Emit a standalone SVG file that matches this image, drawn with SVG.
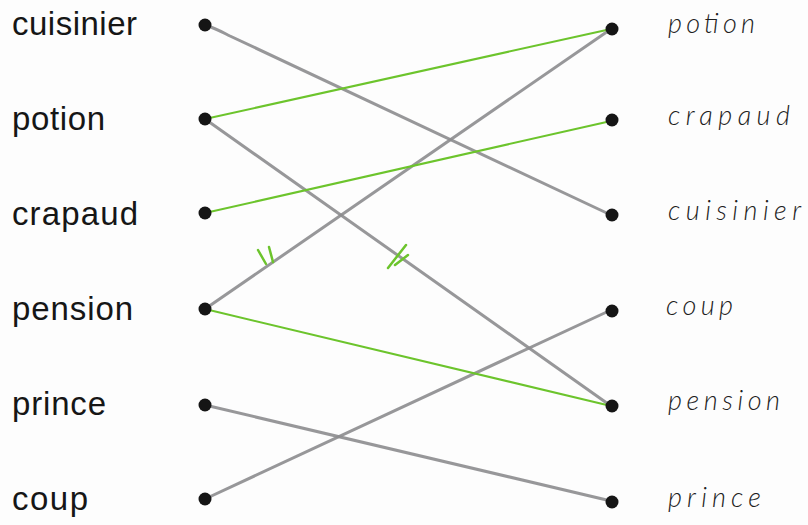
<svg xmlns="http://www.w3.org/2000/svg" width="808" height="525" viewBox="0 0 808 525">
<style>
.bg{fill:#fdfdfd}
.lw{font-family:"Liberation Sans",Arial,sans-serif;font-size:33px;fill:#161616}
.rw{font-family:"Lato","DejaVu Sans",sans-serif;font-weight:300;font-style:italic;font-size:27px;fill:#1e1e1e}
.dot{fill:#151515}
.gray{stroke:#8c8c8e;stroke-width:3;stroke-linecap:round;fill:none;opacity:.9}
.green{stroke:#6cc42c;stroke-width:2;stroke-linecap:round;fill:none}
.tick{stroke:#6cc42c;stroke-width:2.5;stroke-linecap:round;fill:none}
</style>
<rect class="bg" x="0" y="0" width="808" height="525"/>
<g id="connectors">
<path class="gray" d="M205,25 C215,28 222,32 230,36 L611,215"/>
<line class="gray" x1="205" y1="119" x2="611" y2="406"/>
<line class="gray" x1="205" y1="309" x2="611" y2="29"/>
<line class="gray" x1="205" y1="405" x2="611" y2="501"/>
<line class="gray" x1="205" y1="499" x2="611" y2="310"/>
<line class="green" x1="205" y1="119" x2="611" y2="29"/>
<line class="green" x1="205" y1="213" x2="611" y2="121"/>
<line class="green" x1="205" y1="309" x2="611" y2="406"/>
<g id="marks">
<line class="tick" x1="258" y1="250" x2="266" y2="264"/>
<line class="tick" x1="269" y1="247" x2="273" y2="262"/>
<line class="tick" x1="388" y1="268" x2="406" y2="245"/>
<line class="tick" x1="395" y1="265" x2="408" y2="255"/>
</g>
</g>
<g id="left-cuisinier"><text class="lw" x="12" y="35" textLength="125">cuisinier</text><circle class="dot" cx="205" cy="25" r="6.5"/></g>
<g id="left-potion"><text class="lw" x="12" y="130" textLength="93">potion</text><circle class="dot" cx="205" cy="119" r="6.5"/></g>
<g id="left-crapaud"><text class="lw" x="12" y="225" textLength="126">crapaud</text><circle class="dot" cx="205" cy="213" r="6.5"/></g>
<g id="left-pension"><text class="lw" x="12" y="320" textLength="121">pension</text><circle class="dot" cx="205" cy="309" r="6.5"/></g>
<g id="left-prince"><text class="lw" x="12" y="415" textLength="94">prince</text><circle class="dot" cx="205" cy="405" r="6.5"/></g>
<g id="left-coup"><text class="lw" x="12" y="510" textLength="76">coup</text><circle class="dot" cx="205" cy="499" r="6.5"/></g>
<g id="right-potion"><circle class="dot" cx="612" cy="29" r="6.5"/><text class="rw" x="668" y="33" textLength="87">potion</text></g>
<g id="right-crapaud"><circle class="dot" cx="612" cy="120" r="6.5"/><text class="rw" x="668" y="125" textLength="122">crapaud</text></g>
<g id="right-cuisinier"><circle class="dot" cx="612" cy="215" r="6.5"/><text class="rw" x="668" y="220" textLength="133">cuisinier</text></g>
<g id="right-coup"><circle class="dot" cx="612" cy="311" r="6.5"/><text class="rw" x="666" y="315" textLength="67">coup</text></g>
<g id="right-pension"><circle class="dot" cx="612" cy="406" r="6.5"/><text class="rw" x="668" y="410" textLength="112">pension</text></g>
<g id="right-prince"><circle class="dot" cx="612" cy="502" r="6.5"/><text class="rw" x="668" y="507" textLength="93">prince</text></g>
</svg>
